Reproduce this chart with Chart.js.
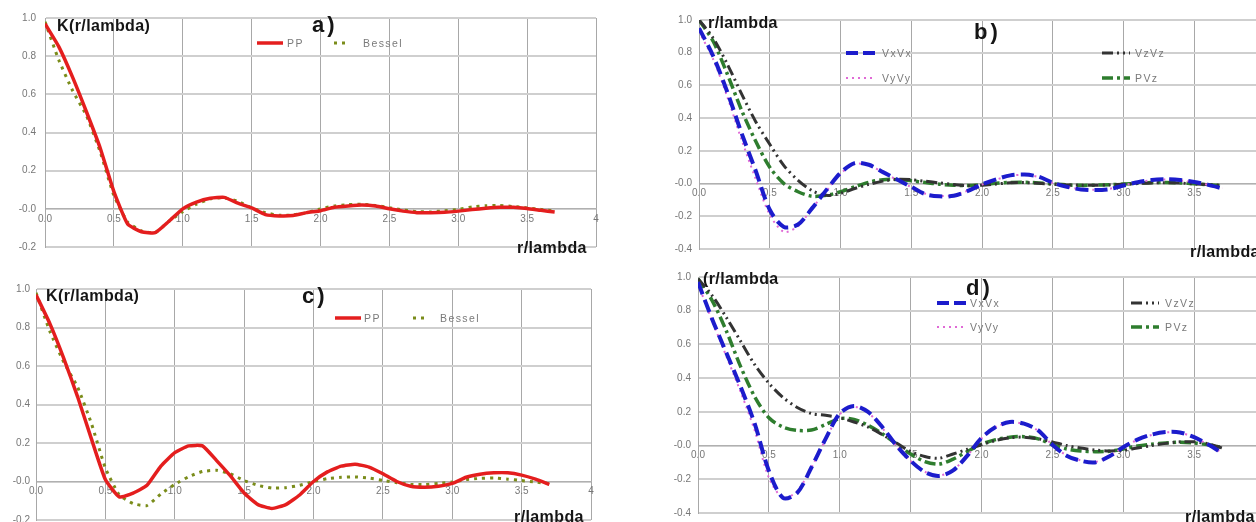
<!DOCTYPE html>
<html>
<head>
<meta charset="utf-8">
<script src="https://cdn.jsdelivr.net/npm/chart.js@4.4.1/dist/chart.umd.min.js"></script>
<style>
  html, body { margin: 0; padding: 0; width: 1256px; height: 522px; overflow: hidden; background: #fff; }
  body { position: relative; font-family: "Liberation Sans", Arial, sans-serif; }
  canvas { position: absolute; }
  .t { position: absolute; white-space: nowrap; line-height: 20px; height: 20px; margin-top: -10px; }
  .ax { font-weight: bold; font-size: 16px; color: #151515; letter-spacing: 0.4px; }
  .tag { font-weight: bold; font-size: 22px; color: #151515; letter-spacing: 3px; }
  .lt { font-size: 10.5px; color: #7a7a7a; letter-spacing: 1.4px; }
  .smp { position: absolute; margin-top: -5px; }
</style>
</head>
<body>
<canvas id="chA" width="620" height="262" style="left:0;top:0"></canvas>
<canvas id="chB" width="640" height="262" style="left:640px;top:0"></canvas>
<canvas id="chC" width="620" height="270" style="left:0;top:262px"></canvas>
<canvas id="chD" width="640" height="264" style="left:640px;top:262px"></canvas>

<!-- panel a -->
<div class="t ax" style="left:57px;top:26px">K(r/lambda)</div>
<div class="t tag" style="left:312px;top:25px">a)</div>
<svg class="smp" style="left:257px;top:43px" width="26" height="10"><line x1="0" y1="5" x2="26" y2="5" stroke="#e41e1e" stroke-width="3.5"/></svg>
<div class="t lt" style="left:287px;top:43px">PP</div>
<svg class="smp" style="left:334px;top:43px" width="12" height="10"><line x1="0" y1="5" x2="12" y2="5" stroke="#7a8c1a" stroke-width="3" stroke-dasharray="3,5"/></svg>
<div class="t lt" style="left:363px;top:43px">Bessel</div>
<div class="t ax" style="left:517px;top:248px">r/lambda</div>

<!-- panel c -->
<div class="t ax" style="left:46px;top:296px">K(r/lambda)</div>
<div class="t tag" style="left:302px;top:296px">c)</div>
<svg class="smp" style="left:335px;top:318px" width="26" height="10"><line x1="0" y1="5" x2="26" y2="5" stroke="#e41e1e" stroke-width="3.5"/></svg>
<div class="t lt" style="left:364px;top:318px">PP</div>
<svg class="smp" style="left:413px;top:318px" width="12" height="10"><line x1="0" y1="5" x2="12" y2="5" stroke="#7a8c1a" stroke-width="3" stroke-dasharray="3,5"/></svg>
<div class="t lt" style="left:440px;top:318px">Bessel</div>
<div class="t ax" style="left:514px;top:517px">r/lambda</div>

<!-- panel b -->
<div class="t ax" style="left:708px;top:23px">r/lambda</div>
<div class="t tag" style="left:974px;top:32px">b)</div>
<svg class="smp" style="left:846px;top:53px" width="30" height="10"><line x1="0" y1="5" x2="30" y2="5" stroke="#1c1ccc" stroke-width="4" stroke-dasharray="12,5"/></svg>
<div class="t lt" style="left:882px;top:53px">VxVx</div>
<svg class="smp" style="left:846px;top:78px" width="30" height="10"><line x1="0" y1="5" x2="30" y2="5" stroke="#e06ad6" stroke-width="2" stroke-dasharray="2,4"/></svg>
<div class="t lt" style="left:882px;top:78px">VyVy</div>
<svg class="smp" style="left:1102px;top:53px" width="28" height="10"><line x1="0" y1="5" x2="28" y2="5" stroke="#333333" stroke-width="3" stroke-dasharray="11,4,2,4,2,4"/></svg>
<div class="t lt" style="left:1135px;top:53px">VzVz</div>
<svg class="smp" style="left:1102px;top:78px" width="28" height="10"><line x1="0" y1="5" x2="28" y2="5" stroke="#2e7d2e" stroke-width="3.5" stroke-dasharray="11,4,3,4"/></svg>
<div class="t lt" style="left:1135px;top:78px">PVz</div>
<div class="t ax" style="left:1190px;top:252px">r/lambda</div>

<!-- panel d -->
<div class="t ax" style="left:703px;top:279px">(r/lambda</div>
<div class="t tag" style="left:966px;top:288px">d)</div>
<svg class="smp" style="left:937px;top:303px" width="30" height="10"><line x1="0" y1="5" x2="30" y2="5" stroke="#1c1ccc" stroke-width="4" stroke-dasharray="12,5"/></svg>
<div class="t lt" style="left:970px;top:303px">VxVx</div>
<svg class="smp" style="left:937px;top:327px" width="30" height="10"><line x1="0" y1="5" x2="30" y2="5" stroke="#e06ad6" stroke-width="2" stroke-dasharray="2,4"/></svg>
<div class="t lt" style="left:970px;top:327px">VyVy</div>
<svg class="smp" style="left:1131px;top:303px" width="28" height="10"><line x1="0" y1="5" x2="28" y2="5" stroke="#333333" stroke-width="3" stroke-dasharray="11,4,2,4,2,4"/></svg>
<div class="t lt" style="left:1165px;top:303px">VzVz</div>
<svg class="smp" style="left:1131px;top:327px" width="28" height="10"><line x1="0" y1="5" x2="28" y2="5" stroke="#2e7d2e" stroke-width="3.5" stroke-dasharray="11,4,3,4"/></svg>
<div class="t lt" style="left:1165px;top:327px">PVz</div>
<div class="t ax" style="left:1185px;top:517px">r/lambda</div>

<script>
// r/lambda sample points shared by all curves
const rValues = [0.0, 0.1, 0.2, 0.3, 0.4, 0.5, 0.6, 0.7, 0.8, 0.9,
                 1.0, 1.1, 1.2, 1.3, 1.4, 1.5, 1.6, 1.7, 1.8, 1.9,
                 2.0, 2.1, 2.2, 2.3, 2.4, 2.5, 2.6, 2.7, 2.8, 2.9,
                 3.0, 3.1, 3.2, 3.3, 3.4, 3.5, 3.6, 3.7];

// reference Bessel curve (same in a and c)
const besselK = [0.98, 0.78, 0.62, 0.49, 0.30, 0.07, -0.07, -0.115, -0.125, -0.065,
                 -0.015, 0.025, 0.052, 0.058, 0.04, 0.005, -0.02, -0.034, -0.032, -0.02,
                 0.0, 0.015, 0.022, 0.024, 0.018, 0.006, -0.006, -0.015, -0.016, -0.01,
                 -0.003, 0.01, 0.016, 0.018, 0.012, 0.005, -0.003, -0.012];

// panel a
const ppA = [0.97, 0.85, 0.69, 0.51, 0.32, 0.09, -0.08, -0.12, -0.125, -0.065,
             0.0, 0.035, 0.055, 0.06, 0.03, 0.005, -0.03, -0.037, -0.035, -0.02,
             -0.01, 0.008, 0.015, 0.02, 0.015, 0.0, -0.012, -0.02, -0.02, -0.018,
             -0.012, -0.004, 0.003, 0.008, 0.008, 0.002, -0.008, -0.017];

// panel c
const ppC = [0.97, 0.82, 0.64, 0.44, 0.22, 0.01, -0.08, -0.06, -0.02, 0.08,
             0.15, 0.185, 0.185, 0.11, 0.03, -0.06, -0.12, -0.14, -0.12, -0.07,
             0.0, 0.05, 0.08, 0.09, 0.075, 0.04, 0.0, -0.025, -0.03, -0.025,
             -0.01, 0.022, 0.038, 0.045, 0.045, 0.033, 0.012, -0.015];

// panel b
const vxB = [0.95, 0.78, 0.56, 0.31, 0.08, -0.16, -0.265, -0.25, -0.15, -0.04,
             0.065, 0.125, 0.115, 0.07, 0.025, -0.02, -0.065, -0.078, -0.075, -0.045,
             -0.005, 0.026, 0.05, 0.055, 0.042, 0.005, -0.02, -0.036, -0.04, -0.034,
             -0.012, 0.008, 0.022, 0.026, 0.022, 0.01, -0.008, -0.03];
const vyB = [0.93, 0.76, 0.53, 0.27, 0.03, -0.19, -0.295, -0.26, -0.15, -0.045,
             0.06, 0.12, 0.112, 0.068, 0.022, -0.022, -0.062, -0.076, -0.072, -0.043,
             -0.006, 0.024, 0.048, 0.053, 0.04, 0.004, -0.02, -0.035, -0.038, -0.032,
             -0.011, 0.008, 0.02, 0.025, 0.02, 0.008, -0.008, -0.028];
const vzB = [1.0, 0.89, 0.73, 0.55, 0.38, 0.24, 0.11, 0.02, -0.044, -0.072,
             -0.06, -0.03, -0.005, 0.015, 0.026, 0.024, 0.014, 0.004, -0.006, -0.013,
             -0.01, -0.003, 0.005, 0.006, 0.002, -0.004, -0.008, -0.01, -0.01, -0.008,
             -0.004, 0.0, 0.004, 0.005, 0.003, -0.002, -0.006, -0.012];
const pvB = [1.0, 0.87, 0.67, 0.45, 0.26, 0.10, 0.0, -0.05, -0.078, -0.072,
             -0.05, -0.02, 0.008, 0.024, 0.025, 0.017, 0.006, -0.004, -0.01, -0.012,
             -0.006, 0.002, 0.007, 0.008, 0.004, -0.002, -0.008, -0.011, -0.01, -0.007,
             -0.003, 0.002, 0.006, 0.007, 0.004, -0.001, -0.007, -0.014];

// panel d
const vxD = [0.97, 0.75, 0.55, 0.35, 0.13, -0.15, -0.31, -0.28, -0.13, 0.04,
             0.19, 0.235, 0.20, 0.11, 0.0, -0.09, -0.157, -0.18, -0.147, -0.06,
             0.045, 0.11, 0.14, 0.13, 0.09, 0.005, -0.06, -0.09, -0.10, -0.065,
             -0.01, 0.035, 0.065, 0.08, 0.078, 0.05, 0.006, -0.045];
const vyD = [0.96, 0.74, 0.53, 0.32, 0.09, -0.19, -0.31, -0.27, -0.13, 0.035,
             0.185, 0.23, 0.195, 0.105, -0.003, -0.092, -0.155, -0.178, -0.145, -0.06,
             0.043, 0.108, 0.138, 0.128, 0.088, 0.004, -0.058, -0.088, -0.098, -0.064,
             -0.01, 0.034, 0.063, 0.078, 0.076, 0.048, 0.005, -0.044];
const vzD = [0.99, 0.89, 0.76, 0.62, 0.48, 0.37, 0.285, 0.226, 0.19, 0.18,
             0.165, 0.14, 0.11, 0.065, 0.015, -0.035, -0.065, -0.075, -0.05, -0.022,
             0.005, 0.03, 0.046, 0.05, 0.04, 0.022, 0.0, -0.015, -0.026, -0.032,
             -0.028, -0.014, 0.0, 0.013, 0.022, 0.022, 0.01, -0.015];
const pvD = [0.99, 0.86, 0.68, 0.47, 0.29, 0.165, 0.11, 0.09, 0.092, 0.125,
             0.16, 0.155, 0.12, 0.07, 0.01, -0.05, -0.095, -0.11, -0.08, -0.035,
             0.008, 0.035, 0.05, 0.053, 0.04, 0.005, -0.02, -0.032, -0.036, -0.034,
             -0.02, -0.003, 0.008, 0.015, 0.02, 0.016, 0.005, -0.012];

const toPoints = ys => ys.map((y, i) => ({ x: rValues[i], y: y }));

const styles = {
  PP:     { borderColor: '#e41e1e', borderWidth: 3.5, borderDash: [] },
  Bessel: { borderColor: '#7a8c1a', borderWidth: 3, borderDash: [3, 5] },
  VxVx:   { borderColor: '#1c1ccc', borderWidth: 4, borderDash: [13, 6] },
  VyVy:   { borderColor: '#e06ad6', borderWidth: 2, borderDash: [2, 4] },
  VzVz:   { borderColor: '#333333', borderWidth: 3, borderDash: [11, 4, 2, 4, 2, 4] },
  PVz:    { borderColor: '#2e7d2e', borderWidth: 3.5, borderDash: [11, 4, 3, 4] },
};

const makeSet = (label, ys, tension) => ({
  label: label,
  data: toPoints(ys),
  fill: false,
  pointRadius: 0,
  tension: tension,
  ...styles[label],
});

const tickFont = { family: '"Liberation Sans", Arial, sans-serif', size: 10 };

const buildChart = (id, datasets, yMin, yAxisWidth, pad, yPad) => {
  return new Chart(document.getElementById(id), {
    type: 'line',
    data: { datasets },
    options: {
      responsive: false,
      animation: false,
      layout: { padding: pad },
      plugins: { legend: { display: false }, tooltip: { enabled: false } },
      scales: {
        x: {
          type: 'linear',
          min: 0,
          max: 4,
          position: { y: 0 },
          border: { color: '#b0b0b0', width: 1 },
          grid: { color: '#a8a8a8', lineWidth: 1, drawTicks: false },
          ticks: {
            stepSize: 0.5,
            padding: 4,
            color: '#777',
            font: tickFont,
            maxRotation: 0,
            callback: v => (v === 4 ? '4' : v.toFixed(1)),
          },
        },
        y: {
          min: yMin,
          max: 1,
          border: { color: '#a8a8a8', width: 1 },
          grid: { color: '#cfcfcf', lineWidth: 2, drawTicks: false },
          ticks: {
            stepSize: 0.2,
            padding: yPad,
            color: '#777',
            font: tickFont,
            callback: v => (Math.abs(v) < 1e-9 ? '-0.0' : v.toFixed(1)),
          },
          afterFit: scale => { scale.width = yAxisWidth; },
        },
      },
    },
  });
};

buildChart('chA', [makeSet('PP', ppA, 0.15), makeSet('Bessel', besselK, 0.15)],
  -0.2, 45, { top: 18, right: 24, bottom: 6, left: 0 }, 9);
buildChart('chC', [makeSet('PP', ppC, 0.15), makeSet('Bessel', besselK, 0.15)],
  -0.2, 36, { top: 27, right: 29, bottom: 4, left: 0 }, 6);
buildChart('chB', [makeSet('VxVx', vxB, 0.3), makeSet('VyVy', vyB, 0.3),
                   makeSet('VzVz', vzB, 0.3), makeSet('PVz', pvB, 0.3)],
  -0.4, 59, { top: 20, right: 15, bottom: 9, left: 0 }, 7);
buildChart('chD', [makeSet('VxVx', vxD, 0.3), makeSet('VyVy', vyD, 0.3),
                   makeSet('VzVz', vzD, 0.3), makeSet('PVz', pvD, 0.3)],
  -0.4, 58, { top: 15, right: 15, bottom: 7, left: 0 }, 7);
</script>
</body>
</html>
